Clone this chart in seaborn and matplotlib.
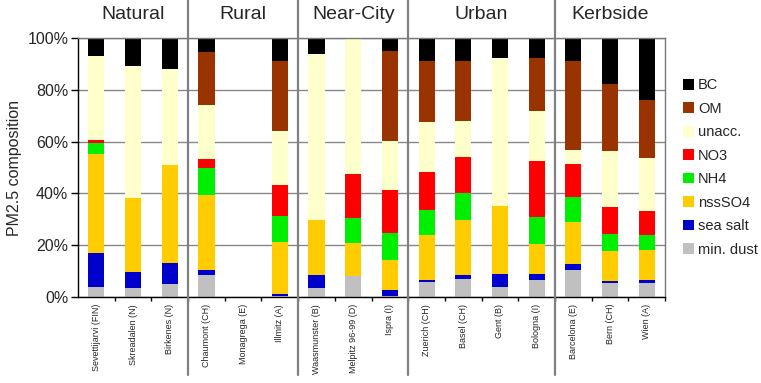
import matplotlib
matplotlib.use("Agg")
import matplotlib.pyplot as plt
import seaborn as sns
import numpy as np
from matplotlib.patches import Patch

sites = ["Sevettijarvi (FIN)", "Skreadalen (N)", "Birkenes (N)",
         "Chaumont (CH)", "Monagrega (E)", "Illmitz (A)",
         "Waasmunster (B)", "Melpitz 96-99 (D)", "Ispra (I)",
         "Zuerich (CH)", "Basel (CH)", "Gent (B)", "Bologna (I)",
         "Barcelona (E)", "Bern (CH)", "Wien (A)"]
groups = ["Natural", "Rural", "Near-City", "Urban", "Kerbside"]
group_sizes = [3, 3, 3, 4, 3]

# composition in %, bottom to top of the stack
min_dust = [3.9, 3.4, 5.2, 8.6, 0, 0.5, 3.6, 8.0, 0.4, 5.8, 7.1, 3.9, 6.7, 10.3, 5.5, 5.5]
sea_salt = [13.1, 6.3, 7.8, 1.7, 0, 0.8, 4.8, 0, 2.2, 0.9, 1.5, 5.1, 2.1, 2.3, 0.8, 1.1]
nss_so4 = [38.2, 28.4, 38.0, 29.2, 0, 19.9, 21.3, 12.9, 11.6, 17.3, 21.1, 26.2, 11.8, 16.2, 11.6, 11.5]
nh4 = [4.4, 0, 0, 10.2, 0, 10.2, 0, 9.7, 10.6, 9.5, 10.3, 0, 10.4, 9.7, 6.4, 5.8]
no3 = [0.9, 0, 0, 3.7, 0, 11.8, 0, 16.9, 16.7, 14.9, 13.9, 0, 21.6, 12.7, 10.4, 9.4]
unacc = [32.7, 50.9, 37.0, 20.7, 0, 20.8, 64.1, 52.5, 18.9, 19.0, 14.2, 56.9, 19.1, 5.6, 21.7, 20.5]
om = [0, 0, 0, 20.6, 0, 27.2, 0, 0, 34.4, 23.6, 22.9, 0, 20.7, 34.2, 25.7, 22.3]
bc = [6.8, 11.0, 12.0, 5.3, 0, 8.8, 6.2, 0, 5.2, 9.0, 9.0, 7.9, 7.6, 9.0, 17.9, 23.9]

components = [
    ("min. dust", min_dust, "#c0c0c0"),
    ("sea salt", sea_salt, "#0000cc"),
    ("nssSO4", nss_so4, "#ffcc00"),
    ("NH4", nh4, "#00ee00"),
    ("NO3", no3, "#ff0000"),
    ("unacc.", unacc, "#ffffcc"),
    ("OM", om, "#993300"),
    ("BC", bc, "#000000"),
]

sns.set_theme(style="white")
plt.rcParams["font.family"] = ["Liberation Sans", "DejaVu Sans"]

fig = plt.figure(figsize=(7.61, 3.83), dpi=100)
ax = fig.add_axes([0.1025, 0.2245, 0.7715, 0.6763])

bottom = np.zeros(len(sites))
for name, vals, col in components:
    sns.barplot(x=sites, y=vals, bottom=bottom, color=col, saturation=1,
                width=0.44, ax=ax, zorder=2, linewidth=0)
    bottom = bottom + np.array(vals)

ax.set_xlim(-0.5, len(sites) - 0.5)
ax.set_ylim(0, 100)
ax.set_yticks([0, 20, 40, 60, 80, 100])
ax.set_yticklabels([f"{v}%" for v in range(0, 101, 20)], fontsize=11.5)
ax.yaxis.grid(True, color="#888888", linewidth=1.0, zorder=0)
ax.set_axisbelow(True)
ax.set_ylabel("PM2.5 composition", fontsize=11.5, labelpad=4)
ax.set_xlabel("")

ax.set_xticks(range(len(sites)))
ax.set_xticklabels(sites, rotation=90, fontsize=6.5, va="top", ha="center")
ax.set_xticks(np.arange(0.5, len(sites), 1), minor=True)
ax.tick_params(axis="x", which="major", length=0, pad=5)
ax.tick_params(axis="x", which="minor", length=3, width=1, direction="out",
               color="black", bottom=True)
ax.tick_params(axis="y", length=5, width=1, direction="out", color="black", left=True, pad=2)

for s in ["left", "bottom"]:
    ax.spines[s].set_color("black")
    ax.spines[s].set_linewidth(1.0)
for s in ["top", "right"]:
    ax.spines[s].set_color("#777777")
    ax.spines[s].set_linewidth(1.0)

# group separators and headers
edges = np.cumsum([0] + group_sizes) - 0.5
for e in edges[1:-1]:
    ax.axvline(e, ymin=-0.30, ymax=1.145, color="#808080", linewidth=1.6,
               clip_on=False, zorder=3)
for g, lo, hi in zip(groups, edges[:-1], edges[1:]):
    ax.text((lo + hi) / 2, 1.09, g, transform=ax.get_xaxis_transform(),
            ha="center", va="center", fontsize=14)

handles = [Patch(facecolor=c, edgecolor="none", label=n) for n, _, c in components[::-1]]
ax.legend(handles=handles, loc="center left", bbox_to_anchor=(1.02, 0.5),
          frameon=False, fontsize=10.5, handlelength=0.75, handleheight=0.75,
          handletextpad=0.3, labelspacing=0.65, borderaxespad=0)

fig.savefig("out.png", dpi=100)
